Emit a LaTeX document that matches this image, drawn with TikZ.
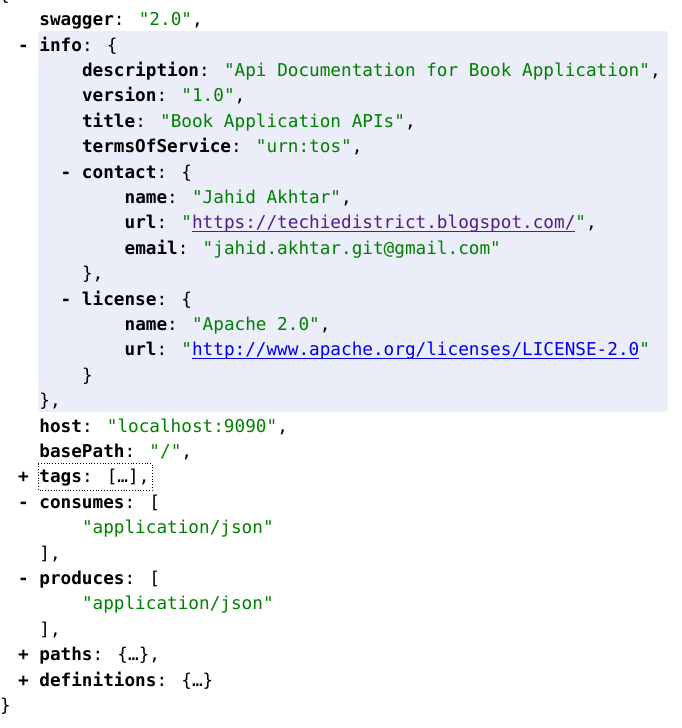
\documentclass[tikz,border=0pt]{standalone}
\usepackage{fontspec}
\usepackage{xcolor}
\newfontfamily\jf{DejaVu Sans Mono}
\definecolor{jgreen}{HTML}{008000}
\definecolor{jvisit}{HTML}{551A8B}
\definecolor{jlink}{HTML}{0000EE}
\definecolor{jbg}{RGB}{235,237,249}
\newcommand\jk[1]{{\bfseries #1}}
\newcommand\js[1]{\textcolor{jgreen}{#1}}
\newcommand\ulk[1]{\setbox0\hbox{#1}\rlap{\rule[-3pt]{\wd0}{1pt}}\box0}
\newcommand\cx[1]{-3.2+10.65*#1}
\newcommand\by[1]{25.7+25.4*#1}
\begin{document}
\begin{tikzpicture}[x=1pt,y=-1pt,
  jl/.style={anchor=base west,inner sep=0pt,outer sep=0pt,text=black,
    font={\jf\fontsize{17.69pt}{20pt}\selectfont}}]
\useasboundingbox (0,0) rectangle (681,728);
% highlighted info block
\fill[jbg,rounded corners=3pt] (38,31) rectangle (668,412);
% focus box around tags
\draw[black,line width=0.8pt,dotted] (38,463.5) rectangle (152,490);
\node[jl] (lm) at (-1,{\by{-1}}) {\{};
\node[jl] (l0) at ({\cx{4}},{\by{0}}) {\jk{swagger}: \js{"2.0"},};
\node[jl] (l1) at ({\cx{2}},{\by{1}}) {\jk{-} \jk{info}: \{};
\node[jl] (l2) at ({\cx{8}},{\by{2}}) {\jk{description}: \js{"Api Documentation for Book Application"},};
\node[jl] (l3) at ({\cx{8}},{\by{3}}) {\jk{version}: \js{"1.0"},};
\node[jl] (l4) at ({\cx{8}},{\by{4}}) {\jk{title}: \js{"Book Application APIs"},};
\node[jl] (l5) at ({\cx{8}},{\by{5}}) {\jk{termsOfService}: \js{"urn:tos"},};
\node[jl] (l6) at ({\cx{6}},{\by{6}}) {\jk{-} \jk{contact}: \{};
\node[jl] (l7) at ({\cx{12}},{\by{7}}) {\jk{name}: \js{"Jahid Akhtar"},};
\node[jl] (l8) at ({\cx{12}},{\by{8}}) {\jk{url}: \js{"}\textcolor{jvisit}{\ulk{https://techiedistrict.blogspot.com/}}\js{"},};
\node[jl] (l9) at ({\cx{12}},{\by{9}}) {\jk{email}: \js{"jahid.akhtar.git@gmail.com"}};
\node[jl] (l10) at ({\cx{8}},{\by{10}}) {\},};
\node[jl] (l11) at ({\cx{6}},{\by{11}}) {\jk{-} \jk{license}: \{};
\node[jl] (l12) at ({\cx{12}},{\by{12}}) {\jk{name}: \js{"Apache 2.0"},};
\node[jl] (l13) at ({\cx{12}},{\by{13}}) {\jk{url}: \js{"}\textcolor{jlink}{\ulk{http://www.apache.org/licenses/LICENSE-2.0}}\js{"}};
\node[jl] (l14) at ({\cx{8}},{\by{14}}) {\}};
\node[jl] (l15) at ({\cx{4}},{\by{15}}) {\},};
\node[jl] (l16) at ({\cx{4}},{\by{16}}) {\jk{host}: \js{"localhost:9090"},};
\node[jl] (l17) at ({\cx{4}},{\by{17}}) {\jk{basePath}: \js{"/"},};
\node[jl] (l18) at ({\cx{2}},{\by{18}}) {\jk{+} \jk{tags}: […],};
\node[jl] (l19) at ({\cx{2}},{\by{19}}) {\jk{-} \jk{consumes}: [};
\node[jl] (l20) at ({\cx{8}},{\by{20}}) {\js{"application/json"}};
\node[jl] (l21) at ({\cx{4}},{\by{21}}) {],};
\node[jl] (l22) at ({\cx{2}},{\by{22}}) {\jk{-} \jk{produces}: [};
\node[jl] (l23) at ({\cx{8}},{\by{23}}) {\js{"application/json"}};
\node[jl] (l24) at ({\cx{4}},{\by{24}}) {],};
\node[jl] (l25) at ({\cx{2}},{\by{25}}) {\jk{+} \jk{paths}: \{…\},};
\node[jl] (l26) at ({\cx{2}},{\by{26}}) {\jk{+} \jk{definitions}: \{…\}};
\node[jl] (l27) at (0,{\by{27}}) {\}};
\end{tikzpicture}
\end{document}
